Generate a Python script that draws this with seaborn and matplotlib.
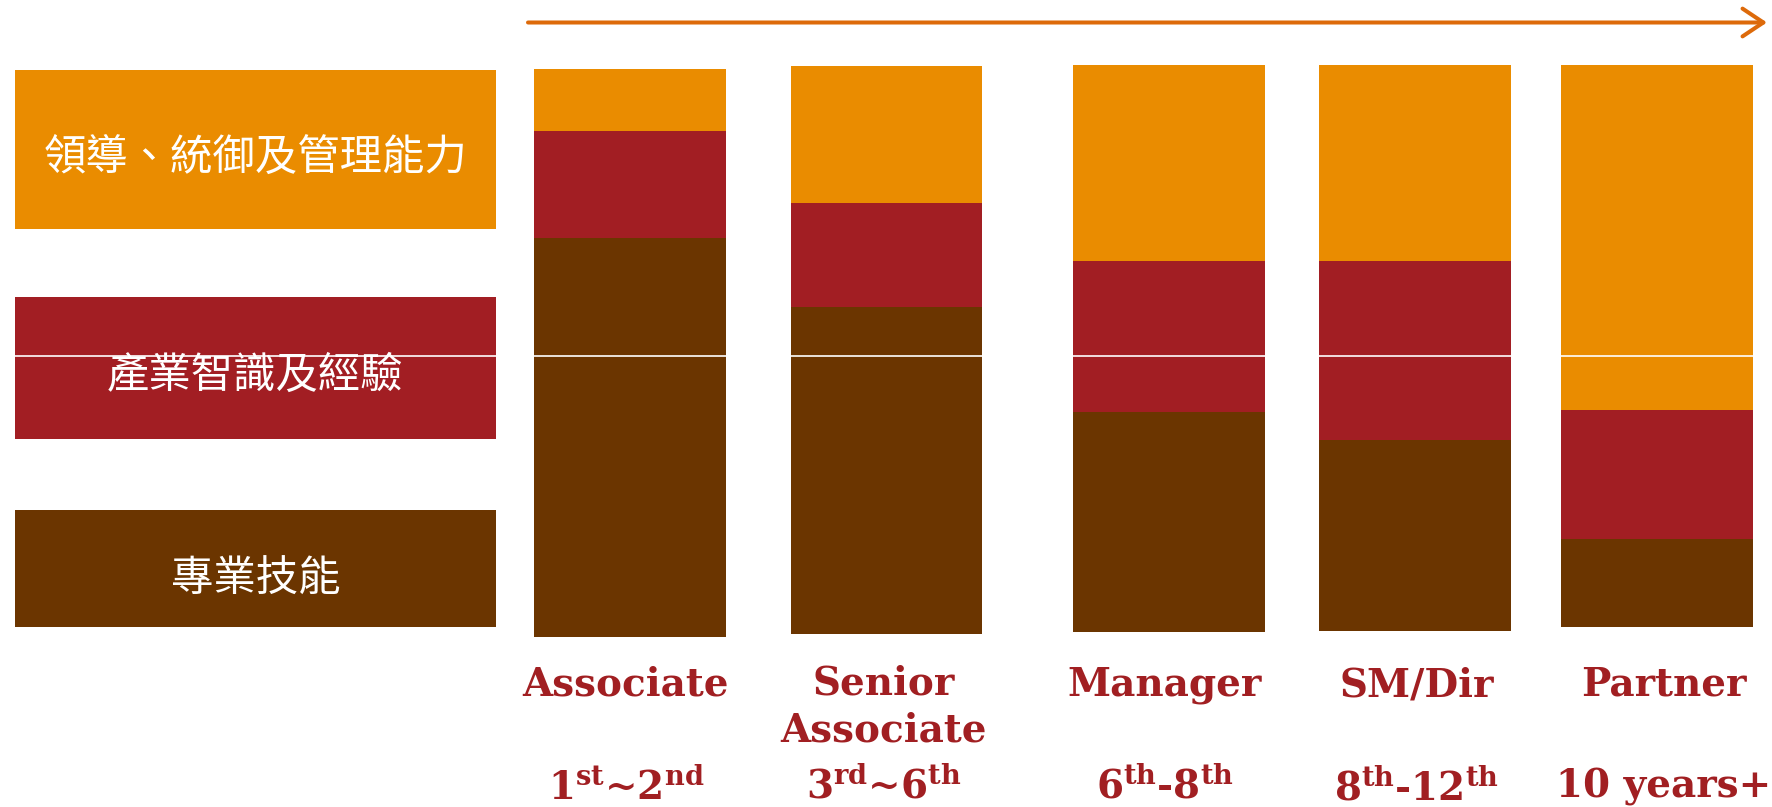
import matplotlib
matplotlib.use("Agg")
import matplotlib.pyplot as plt
import seaborn as sns
from matplotlib.patches import Rectangle, FancyArrowPatch

# career levels and the share (%) of each skill area at that level
levels = ["Associate", "Senior\nAssociate", "Manager", "SM/Dir", "Partner"]
years = [r"$\mathbf{1^{st}}$~$\mathbf{2^{nd}}$",
         r"$\mathbf{3^{rd}}$~$\mathbf{6^{th}}$",
         r"$\mathbf{6^{th}}$-$\mathbf{8^{th}}$",
         r"$\mathbf{8^{th}}$-$\mathbf{12^{th}}$",
         "10 years+"]
skills = ["領導、統御及管理能力", "產業智識及經驗", "專業技能"]
leadership = [10.9, 24.1, 34.5, 34.6, 61.3]
industry = [18.8, 18.3, 26.7, 31.7, 23.0]
professional = [70.3, 57.6, 38.8, 33.7, 15.7]

ORANGE, RED, BROWN = "#EA8C00", "#A21E23", "#6B3500"
LABEL = "#A11F22"
ARROW = "#DD6A0A"

sns.set_theme(style="white")
plt.rcParams["mathtext.fontset"] = "custom"
plt.rcParams["mathtext.bf"] = "DejaVu Serif:bold"
plt.rcParams["mathtext.rm"] = "DejaVu Serif:bold"
plt.rcParams["mathtext.it"] = "DejaVu Serif:bold:italic"

W, H = 1772, 807
fig = plt.figure(figsize=(W / 100, H / 100), dpi=100)
fig.patch.set_facecolor("white")


def frac(left, top, right, bottom):
    return [left / W, 1 - bottom / H, (right - left) / W, (bottom - top) / H]


# layout (pixels: left, top, right, bottom)
bar_boxes = [(534, 69, 725.5, 637), (791, 66, 982, 634), (1073, 65, 1264.5, 632),
             (1319, 65, 1511, 630.5), (1561, 65, 1752.5, 627)]
key_boxes = [(14.7, 70, 496, 229.4), (14.7, 297, 496, 438.5), (14.7, 510, 496, 627)]
key_text_y = [158, 376, 580]
name_x = [626, 884, 1165, 1417, 1664]
name_y = [696, 742, 696, 696, 696]   # baseline of the last line
year_y = [799, 797, 797, 799, 798]

# one small axes per stacked bar
for i, level in enumerate(levels):
    ax = fig.add_axes(frac(*bar_boxes[i]))
    total = leadership[i] + industry[i] + professional[i]
    layers = [(total, ORANGE), (industry[i] + professional[i], RED), (professional[i], BROWN)]
    for value, color in layers:
        sns.barplot(x=[level], y=[value], color=color, width=1, saturation=1,
                    errorbar=None, linewidth=0, ax=ax)
    ax.set_xlim(-0.5, 0.5)
    ax.set_ylim(0, total)
    ax.axis("off")

# overlay in pixel coordinates for keys, arrow and labels
ax0 = fig.add_axes([0, 0, 1, 1])
ax0.set_xlim(0, W)
ax0.set_ylim(H, 0)
ax0.axis("off")
ax0.set_zorder(5)

for (l, t, r, b), skill, ty, c in zip(key_boxes, skills, key_text_y, [ORANGE, RED, BROWN]):
    ax0.add_patch(Rectangle((l, t), r - l, b - t, facecolor=c, edgecolor="none"))
    ax0.text((l + r) / 2, ty, skill, ha="center", va="center", color="white", fontsize=30.5,
             family=["Noto Sans CJK TC", "DejaVu Sans"])

ax0.add_patch(FancyArrowPatch((528, 22.5), (1767, 22.5),
                              arrowstyle="->,head_length=0.75,head_width=0.5",
                              mutation_scale=20, lw=2.9, color=ARROW,
                              shrinkA=0, shrinkB=0))

ax0.plot([14, W], [356, 356], color="white", lw=1.2)

for x, ny, yy, name, yr in zip(name_x, name_y, year_y, levels, years):
    ax0.text(x, ny, name, ha="center", va="baseline", fontsize=28, fontweight="bold",
             family="DejaVu Serif", color=LABEL, linespacing=1.32)
    ax0.text(x, yy, yr, ha="center", va="baseline", fontsize=28, fontweight="bold",
             family="DejaVu Serif", color=LABEL)

fig.savefig("out.png", dpi=100)
